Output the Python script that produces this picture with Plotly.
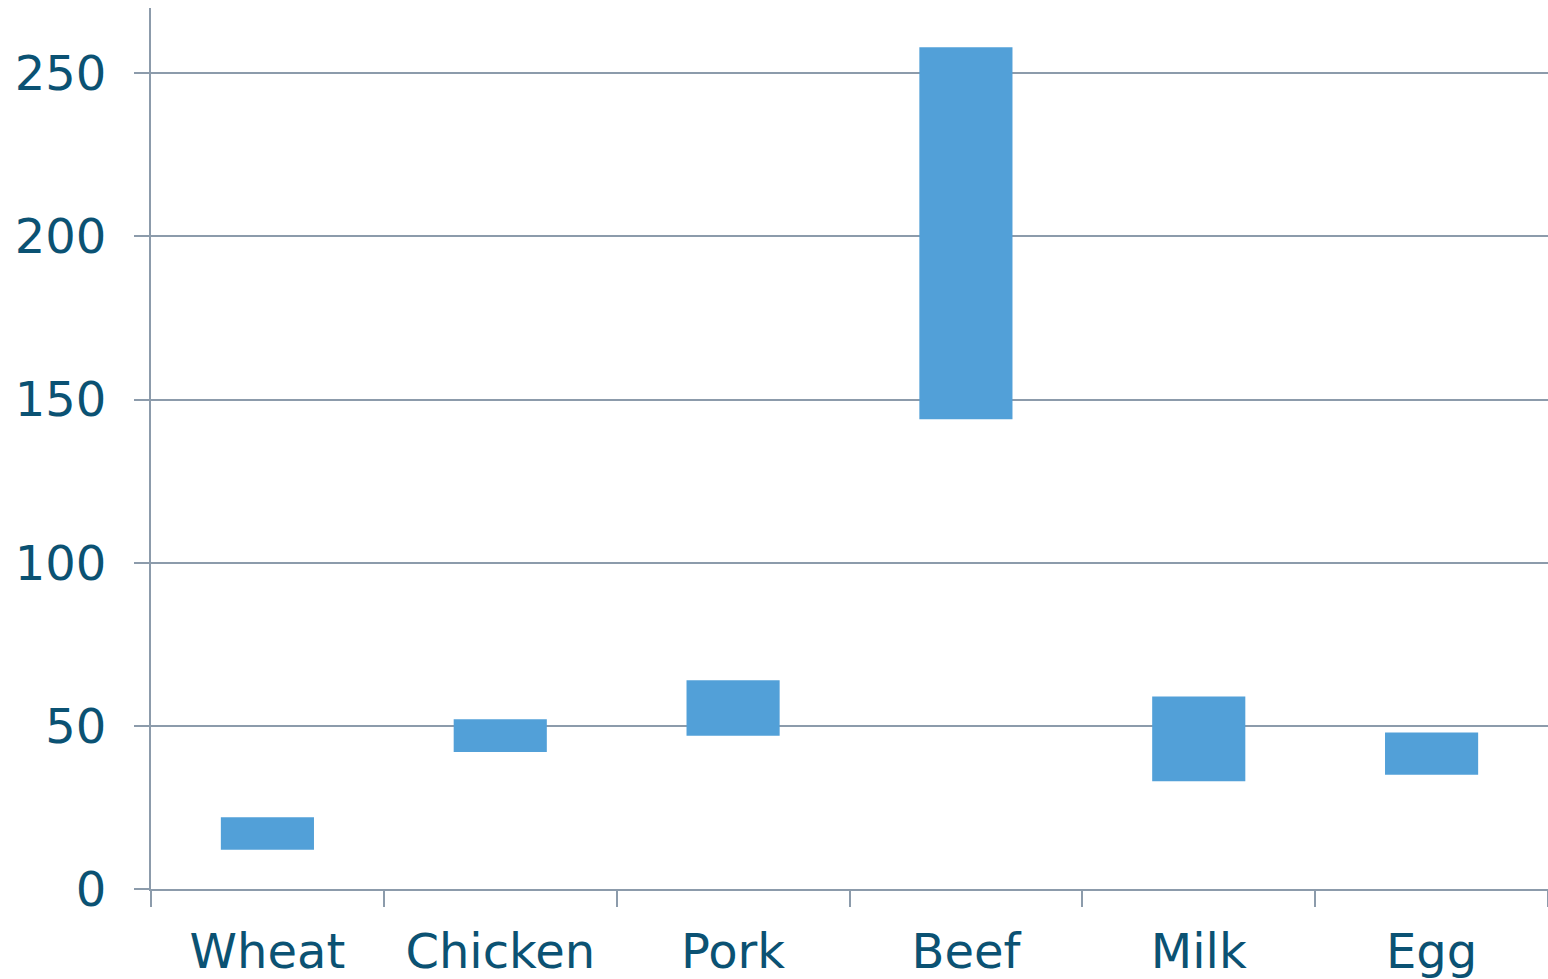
import plotly.graph_objects as go

categories = ["Wheat", "Chicken", "Pork", "Beef", "Milk", "Egg"]
low_values = [12, 42, 47, 144, 33, 35]
high_values = [22, 52, 64, 258, 59, 48]
y_ticks = [0, 50, 100, 150, 200, 250]

text_color = "#0b5273"
line_color = "#8c9bab"
bar_color = "#52a0d8"

fig = go.Figure(
    go.Bar(
        x=categories,
        y=[h - l for h, l in zip(high_values, low_values)],
        base=low_values,
        width=0.4,
        marker=dict(color=bar_color, line=dict(width=0)),
        hoverinfo="skip",
    )
)

font_family = "DejaVu Sans, Verdana, sans-serif"
fig.update_layout(
    width=1548,
    height=979,
    margin=dict(l=151, r=0, t=8, b=90),
    paper_bgcolor="white",
    plot_bgcolor="white",
    showlegend=False,
    font=dict(family=font_family, size=48, color=text_color),
    bargap=0.6,
)
fig.update_xaxes(
    type="category",
    tickson="boundaries",
    ticks="outside",
    ticklen=16,
    tickwidth=2,
    tickcolor=line_color,
    showline=True,
    linecolor=line_color,
    linewidth=2,
    showgrid=False,
    automargin=False,
    tickfont=dict(size=48, color=text_color, family=font_family),
    ticklabelstandoff=19,
)
fig.update_yaxes(
    range=[0, 270],
    tickvals=y_ticks,
    ticks="outside",
    ticklen=15,
    tickwidth=2,
    tickcolor=line_color,
    showline=True,
    linecolor=line_color,
    linewidth=2,
    showgrid=True,
    gridcolor=line_color,
    gridwidth=2,
    zeroline=False,
    automargin=False,
    tickfont=dict(size=48, color=text_color, family=font_family),
    ticklabelstandoff=18,
)

fig.write_html("out.html")
